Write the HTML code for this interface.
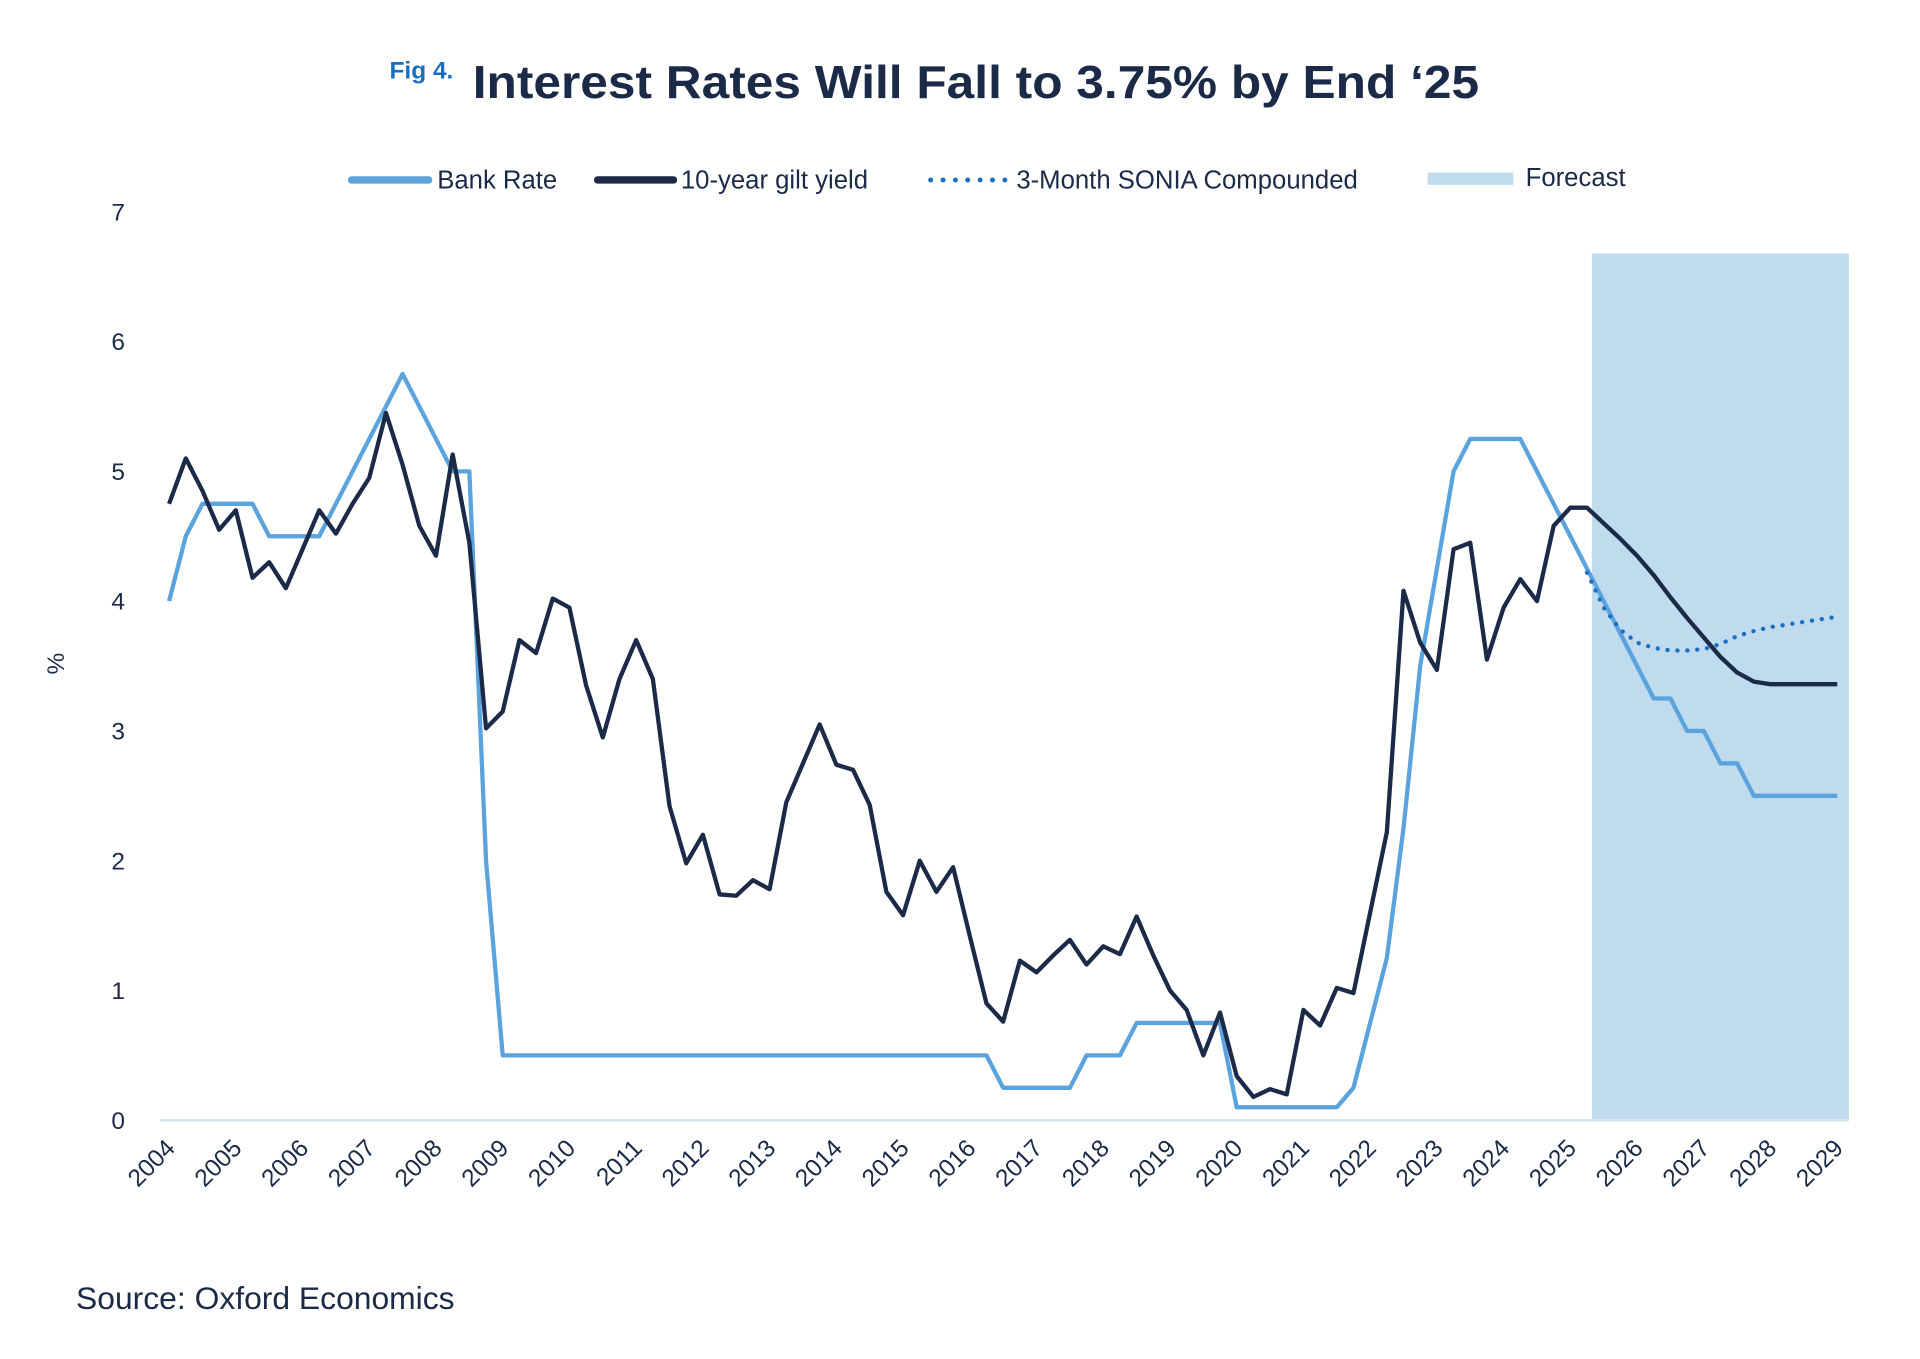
<!DOCTYPE html>
<html><head><meta charset="utf-8"><style>
html,body{margin:0;padding:0;background:#fff;}
svg{display:block;font-family:"Liberation Sans",sans-serif;}
</style></head><body>
<svg id="chart" width="1920" height="1359" viewBox="0 0 1568 1110" xmlns="http://www.w3.org/2000/svg">
<text x="318" y="64" font-size="20" fill="#1a6fc0" font-weight="bold">Fig 4.</text>
<text x="386" y="80" font-size="38" fill="#1b2a47" font-weight="bold" textLength="822" lengthAdjust="spacingAndGlyphs">Interest Rates Will Fall to 3.75% by End ‘25</text>
<g font-size="21" fill="#1b2a47">
<g><line x1="287" y1="147" x2="350" y2="147" stroke="#5aa3dd" stroke-width="6" stroke-linecap="round"/><text x="357" y="154">Bank Rate</text></g>
<g><line x1="488" y1="147" x2="550" y2="147" stroke="#1b2a47" stroke-width="6" stroke-linecap="round"/><text x="556" y="154">10-year gilt yield</text></g>
<g><line x1="760" y1="147" x2="822" y2="147" stroke="#1a6fc0" stroke-width="4" stroke-dasharray="0.1 10" stroke-linecap="round"/><text x="830" y="154">3-Month SONIA Compounded</text></g>
<g><rect x="1166" y="141" width="70" height="10" fill="#c0dbee"/><text x="1246" y="152">Forecast</text></g>
</g>
<g id="plot"></g>
<text transform="translate(52,542) rotate(-90)" font-size="20" fill="#1b2a47" text-anchor="middle">%</text>
<text x="62" y="1069" font-size="26" fill="#1b2a47">Source: Oxford Economics</text>
</svg>
<script>
const yTicks=[0,1,2,3,4,5,6,7];
const years=[2004,2005,2006,2007,2008,2009,2010,2011,2012,2013,2014,2015,2016,2017,2018,2019,2020,2021,2022,2023,2024,2025,2026,2027,2028,2029];
const bankRate=[4.0,4.5,4.75,4.75,4.75,4.75,4.5,4.5,4.5,4.5,4.75,5.0,5.25,5.5,5.75,5.5,5.25,5.0,5.0,2.0,0.5,0.5,0.5,0.5,0.5,0.5,0.5,0.5,0.5,0.5,0.5,0.5,0.5,0.5,0.5,0.5,0.5,0.5,0.5,0.5,0.5,0.5,0.5,0.5,0.5,0.5,0.5,0.5,0.5,0.5,0.25,0.25,0.25,0.25,0.25,0.5,0.5,0.5,0.75,0.75,0.75,0.75,0.75,0.75,0.1,0.1,0.1,0.1,0.1,0.1,0.1,0.25,0.75,1.25,2.25,3.5,4.25,5.0,5.25,5.25,5.25,5.25,5.0,4.75,4.5,4.25,4.0,3.75,3.5,3.25,3.25,3.0,3.0,2.75,2.75,2.5,2.5,2.5,2.5,2.5,2.5];
const giltYield=[4.75,5.1,4.85,4.55,4.7,4.18,4.3,4.1,4.4,4.7,4.52,4.75,4.95,5.45,5.05,4.58,4.35,5.13,4.45,3.02,3.15,3.7,3.6,4.02,3.95,3.35,2.95,3.4,3.7,3.4,2.42,1.98,2.2,1.74,1.73,1.85,1.78,2.45,2.75,3.05,2.74,2.7,2.43,1.76,1.58,2.0,1.76,1.95,1.42,0.9,0.76,1.23,1.14,1.27,1.39,1.2,1.34,1.28,1.57,1.27,1.0,0.85,0.5,0.83,0.34,0.18,0.24,0.2,0.85,0.73,1.02,0.98,1.6,2.22,4.08,3.68,3.47,4.4,4.45,3.55,3.95,4.17,4.0,4.58,4.72,4.72,4.6,4.48,4.35,4.2,4.03,3.87,3.72,3.57,3.45,3.38,3.36,3.36,3.36,3.36,3.36];
const soniaStart=85;
const sonia=[4.22,3.95,3.78,3.68,3.64,3.62,3.62,3.63,3.67,3.73,3.77,3.8,3.82,3.84,3.86,3.88];
const forecastStartYear=2025.25;

const NS='http://www.w3.org/2000/svg';
const plot=document.getElementById('plot');
const x0=138, yearW=54.5, y0=915, unit=106;
function xQ(i){return x0+i*yearW/4;}
function xYear(y){return x0+(y-2004)*yearW;}
function yV(v){return y0-v*unit;}
function mk(t,a){const e=document.createElementNS(NS,t);for(const k in a)e.setAttribute(k,a[k]);plot.appendChild(e);return e;}

const fr=mk('rect',{x:xYear(forecastStartYear)+4,y:207,width:1510-xYear(forecastStartYear)-4,height:y0-1-207,fill:'#c0dbee'});



const ax=mk('line',{x1:131,y1:y0,x2:1510,y2:y0,stroke:'#d6e4f0','stroke-width':2});



yTicks.forEach(v=>{
  const t=mk('text',{x:102,y:yV(v)+7,'font-size':20,fill:'#1b2a47','text-anchor':'end'});
  t.textContent=v;
  
  
});
years.forEach(y=>{
  const x=xYear(y);
  const t=mk('text',{x:x+6,y:y0+24,'font-size':20,fill:'#1b2a47','text-anchor':'end',transform:`rotate(-45 ${x+6} ${y0+24})`});
  t.textContent=y;
  
  
});

function line(vals,start,attrs,name){
  const d=vals.map((v,i)=>(i?'L':'M')+xQ(start+i).toFixed(2)+' '+yV(v).toFixed(2)).join(' ');
  const p=mk('path',Object.assign({d:d,fill:'none','stroke-linejoin':'round'},attrs));
  
  
}
line(bankRate,0,{stroke:'#5aa3dd','stroke-width':3.5},'bank-rate-line');
line(giltYield,0,{stroke:'#1b2a47','stroke-width':3.5},'gilt-yield-line');
line(sonia,soniaStart,{stroke:'#1a6fc0','stroke-width':3.5,'stroke-dasharray':'0.1 8','stroke-linecap':'round'},'sonia-line');
</script>
</body></html>
